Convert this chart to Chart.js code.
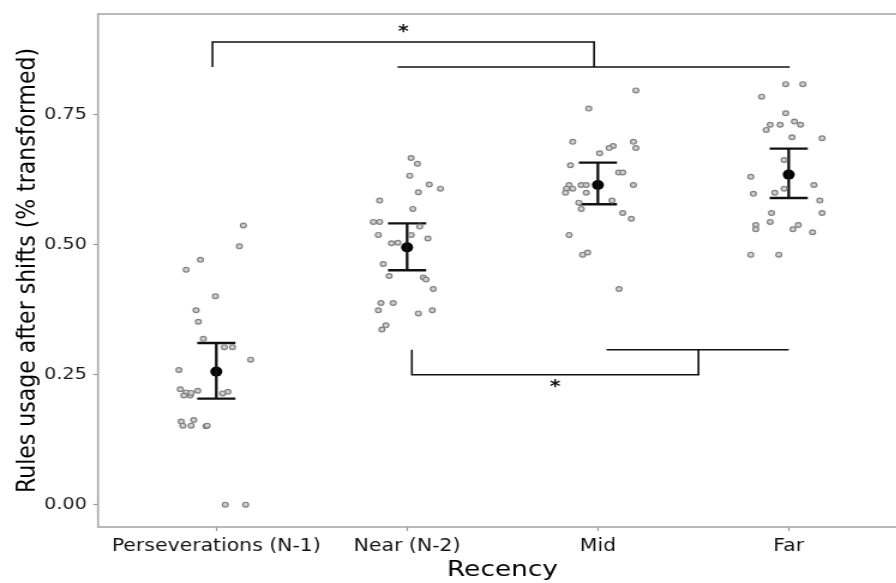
<!DOCTYPE html>
<html>
<head>
<meta charset="utf-8">
<script src="https://cdn.jsdelivr.net/npm/chart.js@4.4.1/dist/chart.umd.min.js"></script>
<style>
  html, body { margin: 0; padding: 0; background: #ffffff; overflow: hidden; width: 896px; height: 583px; }
</style>
</head>
<body>
<canvas id="c" width="761" height="583" style="display:block;width:912.8px;height:583px;"></canvas>
<script>
// ---------------- data ----------------
const categories = ['Perseverations (N-1)', 'Near (N-2)', 'Mid', 'Far'];
const yTickValues = [0, 0.25, 0.5, 0.75];

// individual participants (value, horizontal jitter offset in category units)
const persevValues = [0.537, 0.497, 0.471, 0.452, 0.401, 0.374, 0.352, 0.319, 0.303, 0.303, 0.279, 0.259, 0.222, 0.216,
                      0.210, 0.210, 0.215, 0.219, 0.214, 0.217, 0.160, 0.152, 0.163, 0.152, 0.151, 0.152, 0.0, 0.0];
const persevJitter = [0.142, 0.121, -0.083, -0.158, -0.005, -0.106, -0.094, -0.068, 0.042, 0.085, 0.180, -0.196, -0.189, -0.158,
                      -0.170, -0.137, -0.132, -0.097, 0.033, 0.061, -0.184, -0.175, -0.118, -0.132, -0.054, -0.048, 0.047, 0.154];

const nearValues = [0.667, 0.656, 0.633, 0.616, 0.608, 0.601, 0.585, 0.569, 0.544, 0.544, 0.535, 0.519, 0.519, 0.512,
                    0.503, 0.504, 0.463, 0.440, 0.437, 0.433, 0.415, 0.388, 0.388, 0.374, 0.368, 0.374, 0.345, 0.337];
const nearJitter = [0.021, 0.054, 0.014, 0.116, 0.175, 0.059, -0.144, 0.030, -0.177, -0.144, 0.066, -0.151, 0.022, 0.109,
                    -0.082, -0.048, -0.125, -0.094, 0.085, 0.099, 0.137, -0.137, -0.073, -0.151, 0.059, 0.132, -0.111, -0.132];

const midValues = [0.797, 0.762, 0.698, 0.698, 0.686, 0.690, 0.686, 0.676, 0.653, 0.639, 0.639, 0.615, 0.608, 0.600,
                   0.608, 0.615, 0.615, 0.600, 0.615, 0.581, 0.569, 0.585, 0.561, 0.550, 0.519, 0.481, 0.485, 0.415];
const midJitter = [0.199, -0.048, -0.132, 0.186, 0.199, 0.080, 0.059, 0.009, -0.144, 0.109, 0.130, -0.151, -0.165, -0.170,
                   -0.132, -0.088, -0.061, -0.061, 0.186, -0.100, -0.087, 0.074, 0.130, 0.175, -0.151, -0.080, -0.054, 0.111];

const farValues = [0.809, 0.809, 0.785, 0.753, 0.731, 0.731, 0.737, 0.731, 0.721, 0.707, 0.705, 0.663, 0.631, 0.615,
                   0.608, 0.598, 0.600, 0.585, 0.561, 0.561, 0.544, 0.538, 0.530, 0.538, 0.530, 0.524, 0.481, 0.481];
const farJitter = [-0.016, 0.074, -0.142, -0.016, -0.097, -0.045, 0.030, 0.062, -0.118, 0.017, 0.175, -0.024, -0.199, 0.132,
                   -0.024, -0.185, -0.073, 0.163, -0.090, 0.175, -0.097, -0.173, -0.173, 0.050, 0.022, 0.125, -0.199, -0.052];

// group summaries
const means = [0.256, 0.495, 0.615, 0.635];
const ciLow = [0.204, 0.451, 0.578, 0.590];
const ciHigh = [0.311, 0.541, 0.658, 0.685];
const capHalfWidth = 0.1;

// significance brackets (category position, value)
const bracketTop = [[-0.02, 0.842], [-0.02, 0.890], [1.98, 0.890], [1.98, 0.842]];
const bracketTopBase = [[0.95, 0.842], [3.005, 0.842]];
const bracketBottom = [[1.025, 0.298], [1.025, 0.250], [2.527, 0.250], [2.527, 0.298]];
const bracketBottomBase = [[2.045, 0.298], [3.0, 0.298]];
const starMarks = [[0.98, 0.919], [1.776, 0.236]];

// ---------------- build datasets ----------------
const groups = [
  [persevValues, persevJitter],
  [nearValues, nearJitter],
  [midValues, midJitter],
  [farValues, farJitter]
];

const jitterPoints = [];
groups.forEach(([vals, jit], i) => {
  vals.forEach((v, k) => jitterPoints.push({ x: i + jit[k], y: v }));
});

const errorSegments = [];
means.forEach((m, i) => {
  errorSegments.push({ x: i - capHalfWidth, y: ciLow[i] }, { x: i + capHalfWidth, y: ciLow[i] }, { x: i, y: null });
  errorSegments.push({ x: i - capHalfWidth, y: ciHigh[i] }, { x: i + capHalfWidth, y: ciHigh[i] }, { x: i, y: null });
  errorSegments.push({ x: i, y: ciLow[i] }, { x: i, y: ciHigh[i] }, { x: i, y: null });
});

const meanPoints = means.map((m, i) => ({ x: i, y: m }));
const toXY = arr => arr.map(([x, y]) => ({ x, y }));

function lineDs(data, width) {
  return {
    type: 'line', data, borderColor: '#111111', borderWidth: width,
    pointRadius: 0, pointHoverRadius: 0, fill: false, spanGaps: false,
    tension: 0, parsing: false
  };
}

const FONT = "'DejaVu Sans', sans-serif";

const annotPlugin = {
  id: 'annot',
  beforeDatasetsDraw(chart) {
    const { ctx, chartArea: a } = chart;
    ctx.save();
    ctx.strokeStyle = '#a8a8a8';
    ctx.lineWidth = 1.6;
    ctx.strokeRect(a.left, a.top, a.right - a.left, a.bottom - a.top);
    ctx.restore();
  },
  afterDatasetsDraw(chart) {
    const { ctx } = chart;
    const xs = chart.scales.x, ys = chart.scales.y;
    ctx.save();
    const fs = 17;
    ctx.font = 'bold ' + fs + 'px ' + FONT;
    ctx.fillStyle = '#111111';
    ctx.textAlign = 'center';
    ctx.textBaseline = 'alphabetic';
    starMarks.forEach(([x, y]) => {
      ctx.fillText('*', xs.getPixelForValue(x), ys.getPixelForValue(y) + 0.56 * fs);
    });
    ctx.restore();
  }
};

new Chart(document.getElementById('c'), {
  type: 'scatter',
  data: {
    datasets: [
      {
        data: jitterPoints,
        pointRadius: 2.4,
        pointBorderWidth: 1.2,
        pointBorderColor: '#808080',
        pointBackgroundColor: '#d0d0d0',
        pointHoverRadius: 2.4
      },
      lineDs(errorSegments, 2.3),
      {
        data: meanPoints,
        pointRadius: 5,
        pointBorderWidth: 0,
        pointBackgroundColor: '#000000',
        pointBorderColor: '#000000',
        pointHoverRadius: 5
      },
      lineDs(toXY(bracketTop), 1.6),
      lineDs(toXY(bracketTopBase), 1.6),
      lineDs(toXY(bracketBottom), 1.6),
      lineDs(toXY(bracketBottomBase), 1.6)
    ]
  },
  plugins: [annotPlugin],
  options: {
    responsive: false,
    animation: false,
    devicePixelRatio: 1,
    layout: { padding: { top: 14, left: 0, right: 0, bottom: 0 } },
    plugins: { legend: { display: false }, tooltip: { enabled: false } },
    scales: {
      x: {
        type: 'linear',
        min: -0.62,
        max: 3.62,
        afterBuildTicks: s => { s.ticks = categories.map((c, i) => ({ value: i })); },
        afterFit: s => { s.height = 56; s.paddingLeft = 0; s.paddingRight = 0; },
        ticks: {
          callback: v => categories[v],
          autoSkip: false, maxRotation: 0,
          color: '#111111',
          font: { family: FONT, size: 17 },
          padding: 5
        },
        grid: { drawOnChartArea: false, drawTicks: true, tickLength: 4, tickColor: '#9a9a9a', tickWidth: 1.2 },
        border: { display: false },
        title: {
          display: true, text: 'Recency', color: '#000000',
          font: { family: FONT, size: 22 },
          padding: { top: 0, bottom: 0 }
        }
      },
      y: {
        type: 'linear',
        min: -0.043,
        max: 0.944,
        afterBuildTicks: s => { s.ticks = yTickValues.map(v => ({ value: v })); },
        afterFit: s => { s.width = 81.67; s.paddingTop = 0; s.paddingBottom = 0; },
        ticks: {
          callback: v => Number(v).toFixed(2),
          color: '#1a1a1a',
          font: { family: FONT, size: 16 },
          padding: 5.2
        },
        grid: { drawOnChartArea: false, drawTicks: true, tickLength: 4, tickColor: '#9a9a9a', tickWidth: 1.2 },
        border: { display: false },
        title: {
          display: true, text: 'Rules usage after shifts (% transformed)', color: '#000000',
          font: { family: FONT, size: 22 },
          padding: { top: 10, bottom: 0 }
        }
      }
    }
  }
});
</script>
</body>
</html>
